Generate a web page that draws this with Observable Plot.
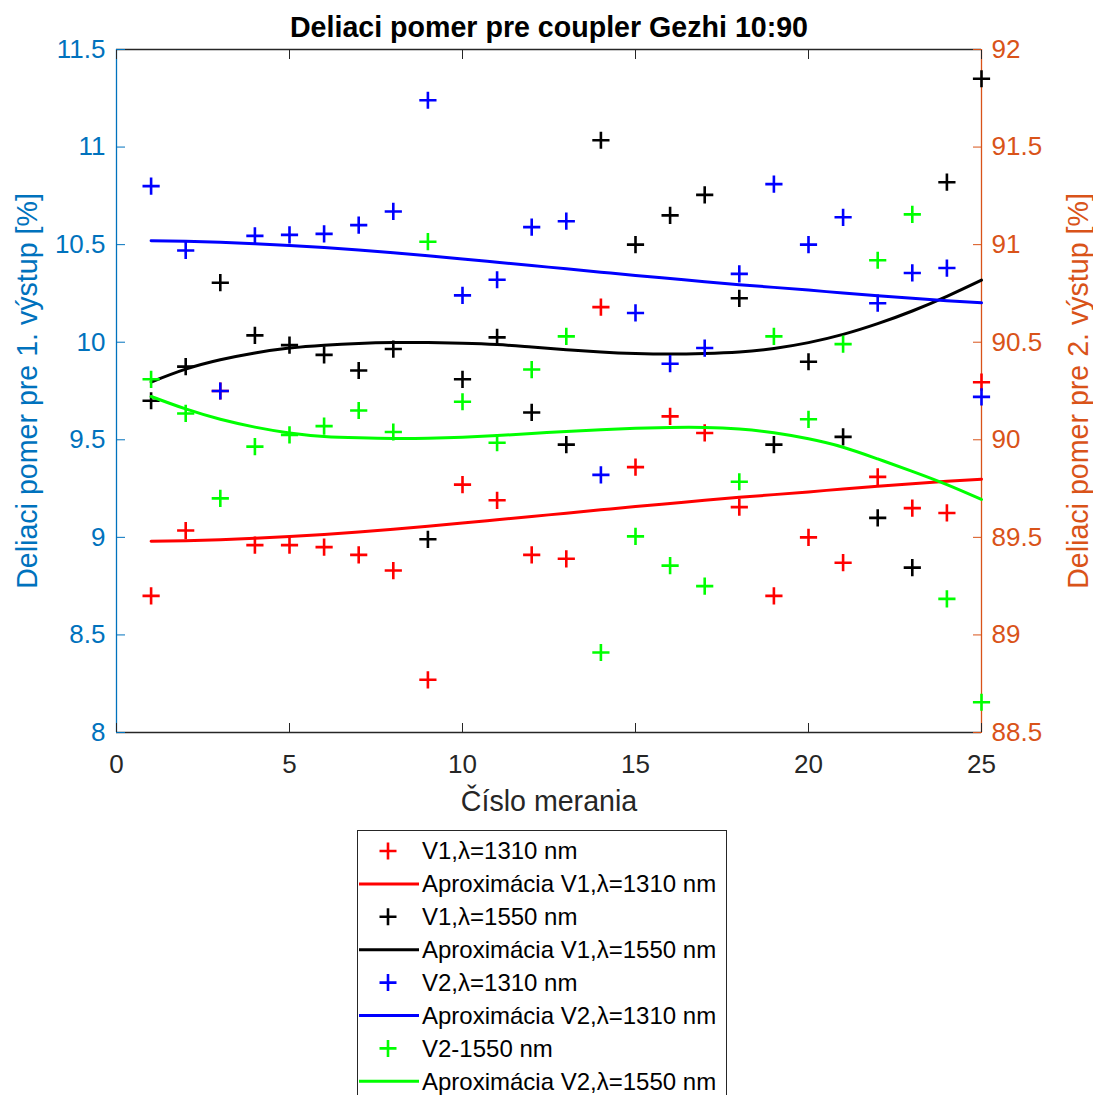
<!DOCTYPE html>
<html><head><meta charset="utf-8">
<script src="https://cdn.jsdelivr.net/npm/d3@7"></script>
<script src="https://cdn.jsdelivr.net/npm/@observablehq/plot@0.6"></script>
<style>
html,body{margin:0;padding:0;background:#fff;width:1093px;height:1095px;overflow:hidden;}
#chart{position:absolute;left:0;top:0;}
#legend{position:absolute;left:357px;top:830px;}
</style></head><body>
<div id="chart"></div><div id="legend"></div>
<script>
// ---- data ----
const title = "Deliaci pomer pre coupler Gezhi 10:90";
const xLabel = "Číslo merania";
const yLabelLeft = "Deliaci pomer pre 1. výstup [%]";
const yLabelRight = "Deliaci pomer pre 2. výstup [%]";

const meranie = [1,2,3,4,5,6,7,8,9,10,11,12,13,14,15,16,17,18,19,20,21,22,23,24,25];

// V1 (left axis, %)
const v1_1310 = [8.70,9.035,9.75,8.96,8.96,8.95,8.91,8.83,8.27,9.27,9.19,8.91,8.89,10.18,9.36,9.62,9.535,9.155,8.70,9.00,8.87,9.31,9.15,9.125,9.795];
const v1_1550 = [9.70,9.875,10.305,10.035,9.985,9.935,9.855,9.965,8.99,9.81,10.025,9.64,9.475,11.035,10.50,10.65,10.755,10.225,9.475,9.90,9.515,9.10,8.845,10.82,11.35];
// V2 (right axis, %)
const v2_1310 = [91.30,90.97,90.25,91.045,91.05,91.055,91.10,91.17,91.74,90.74,90.82,91.09,91.12,89.82,90.65,90.39,90.47,90.85,91.31,91.00,91.14,90.70,90.855,90.88,90.22];
const v2_1550 = [90.31,90.135,89.70,89.965,90.025,90.07,90.15,90.04,91.015,90.195,89.985,90.36,90.53,88.91,89.505,89.355,89.25,89.785,90.53,90.105,90.49,90.92,91.155,89.185,88.655];

// approximation curves read at each measurement
const fit_v1_1310 = [8.980,8.983,8.988,8.995,9.004,9.015,9.028,9.042,9.057,9.073,9.090,9.107,9.124,9.141,9.158,9.174,9.190,9.205,9.219,9.233,9.248,9.262,9.275,9.287,9.298];
const fit_v1_1550 = [9.796,9.862,9.910,9.945,9.970,9.985,9.994,9.998,9.998,9.995,9.988,9.975,9.962,9.950,9.942,9.939,9.942,9.950,9.968,9.998,10.040,10.095,10.160,10.235,10.318];
const fit_v2_1310 = [91.020,91.017,91.012,91.005,90.996,90.985,90.972,90.958,90.943,90.927,90.910,90.893,90.876,90.859,90.842,90.826,90.810,90.795,90.781,90.767,90.752,90.738,90.725,90.713,90.702];
const fit_v2_1550 = [90.222,90.158,90.105,90.065,90.035,90.017,90.010,90.007,90.008,90.013,90.022,90.032,90.043,90.052,90.059,90.063,90.063,90.055,90.036,90.005,89.962,89.902,89.838,89.770,89.694];

const xTicks = [0,5,10,15,20,25];
const leftTicks = [8,8.5,9,9.5,10,10.5,11,11.5];
const rightTicks = [88.5,89,89.5,90,90.5,91,91.5,92];

const legendLabels = ["V1,λ=1310 nm","Aproximácia V1,λ=1310 nm","V1,λ=1550 nm","Aproximácia V1,λ=1550 nm","V2,λ=1310 nm","Aproximácia V2,λ=1310 nm","V2-1550 nm","Aproximácia V2,λ=1550 nm"];

// ---- styles ----
const RED = "#ff0000", BLACK = "#000000", BLUE = "#0000ff", GREEN = "#00ff00";
const LEFTC = "#0072BD", RIGHTC = "#D95319", AX = "#262626";
const FONT = "'Liberation Sans', Arial, Helvetica, sans-serif";
const xDomain = [xTicks[0], xTicks[xTicks.length-1]];
const yDomain = [leftTicks[0], leftTicks[leftTicks.length-1]];
const offset = rightTicks[0] - leftTicks[0];

const toRows = (vals, right) => meranie.map((m, i) => ({x: m, y: right ? vals[i] - offset : vals[i]}));

const series = [
  {pts: toRows(v1_1310,false), fit: toRows(fit_v1_1310,false), color: RED},
  {pts: toRows(v1_1550,false), fit: toRows(fit_v1_1550,false), color: BLACK},
  {pts: toRows(v2_1310,true), fit: toRows(fit_v2_1310,true), color: BLUE},
  {pts: toRows(v2_1550,true), fit: toRows(fit_v2_1550,true), color: GREEN}
];

const dataMarks = series.flatMap(s => [
  Plot.dot(s.pts, {x: "x", y: "y", symbol: "plus", r: 5.6, stroke: s.color, strokeWidth: 2.6, fill: "none"}),
  Plot.line(s.fit, {x: "x", y: "y", stroke: s.color, strokeWidth: 3, curve: "natural"})
]);

const chart = Plot.plot({
  width: 1093, height: 830,
  marginLeft: 116, marginRight: 112, marginTop: 49, marginBottom: 98,
  x: {domain: xDomain, axis: null},
  y: {domain: yDomain, axis: null},
  style: {fontFamily: FONT, background: "white", overflow: "visible"},
  marks: [
    Plot.ruleY([yDomain[0]], {stroke: AX, strokeWidth: 1.3}),
    Plot.ruleY([yDomain[1]], {stroke: AX, strokeWidth: 1.3}),
    Plot.ruleX([xDomain[0]], {stroke: LEFTC, strokeWidth: 1.3}),
    Plot.ruleX([xDomain[1]], {stroke: RIGHTC, strokeWidth: 1.3}),
    ...dataMarks,
    Plot.axisX(xTicks, {anchor: "bottom", tickSize: -9, tickPadding: 31, color: AX, fontSize: 26, label: null, tickFormat: d => String(d)}),
    Plot.axisX(xTicks, {anchor: "top", tickSize: -9, tickPadding: 0, color: AX, label: null, tickFormat: () => ""}),
    Plot.axisY(leftTicks, {anchor: "left", tickSize: -9, tickPadding: 20, color: LEFTC, fontSize: 26, label: null, tickFormat: d => String(d)}),
    Plot.axisY(leftTicks, {anchor: "right", tickSize: -9, tickPadding: 19, color: RIGHTC, fontSize: 26, label: null, tickFormat: d => String(+(d + offset).toFixed(1))}),
    Plot.text([title], {frameAnchor: "top", dy: -22, lineAnchor: "middle", textAnchor: "middle", fontSize: 28.6, fontWeight: "bold", fill: "#000"}),
    Plot.text([xLabel], {frameAnchor: "bottom", dy: 69, lineAnchor: "middle", textAnchor: "middle", fontSize: 28.6, fill: AX}),
    Plot.text([yLabelLeft], {frameAnchor: "left", dx: -89, rotate: -90, lineAnchor: "middle", textAnchor: "middle", fontSize: 28.6, fill: LEFTC}),
    Plot.text([yLabelRight], {frameAnchor: "right", dx: 97, rotate: -90, lineAnchor: "middle", textAnchor: "middle", fontSize: 28.6, fill: RIGHTC})
  ]
});
document.getElementById("chart").appendChild(chart);

// ---- legend ----
const legendColors = [RED, RED, BLACK, BLACK, BLUE, BLUE, GREEN, GREEN];
const lw = 370, lh = 265;
const lg = d3.select("#legend").append("svg").attr("width", lw).attr("height", lh)
  .style("font-family", FONT).style("display", "block");
lg.append("rect").attr("x", 0.5).attr("y", 0.5).attr("width", lw - 1).attr("height", lh + 20)
  .attr("fill", "white").attr("stroke", AX).attr("stroke-width", 1);
legendLabels.forEach((lab, i) => {
  const cy = 21 + i * 32.9;
  const g = lg.append("g").attr("transform", `translate(0,${cy})`);
  if (i % 2 === 0) {
    g.append("path").attr("d", "M22.5,0H39.5M31,-8.5V8.5").attr("stroke", legendColors[i]).attr("stroke-width", 2.6).attr("fill", "none");
  } else {
    g.append("line").attr("x1", 2).attr("x2", 62).attr("y1", 0).attr("y2", 0).attr("stroke", legendColors[i]).attr("stroke-width", 3);
  }
  g.append("text").attr("x", 65).attr("y", 0).attr("dy", "0.35em").attr("font-size", 24).attr("fill", "#000").text(lab);
});
</script></body></html>
